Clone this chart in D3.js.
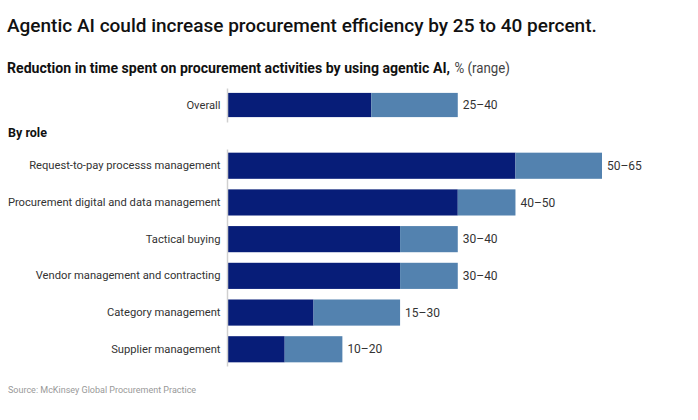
<!DOCTYPE html>
<html>
<head>
<meta charset="utf-8">
<script src="https://cdn.jsdelivr.net/npm/d3@7"></script>
<style>
  body { margin: 0; background: #fff; }
  svg { font-family: Roboto, "Liberation Sans", sans-serif; }
</style>
</head>
<body>
<div id="chart"></div>
<script>
// data
const overallLabel = ['Overall'];
const overallLow = [25];
const overallHigh = [40];

const roles = [
  'Request-to-pay processs management',
  'Procurement digital and data management',
  'Tactical buying',
  'Vendor management and contracting',
  'Category management',
  'Supplier management'
];
const roleLow = [50, 40, 30, 30, 15, 10];
const roleHigh = [65, 50, 40, 40, 30, 20];

const width = 698;
const height = 420;
const darkBlue = '#071d78';
const lightBlue = '#5382af';

const svg = d3.select('#chart')
  .append('svg')
  .attr('width', width)
  .attr('height', height);

// titles
svg.append('text')
  .attr('x', 7).attr('y', 32)
  .attr('font-size', 19)
  .attr('font-weight', 500)
  .attr('fill', '#111')
  .text('Agentic AI could increase procurement efficiency by 25 to 40 percent.');

svg.append('text')
  .attr('x', 7).attr('y', 72.5)
  .attr('font-size', 14)
  .attr('font-weight', 700)
  .attr('fill', '#111')
  .attr('textLength', 443)
  .attr('lengthAdjust', 'spacingAndGlyphs')
  .text('Reduction in time spent on procurement activities by using agentic AI,');
svg.append('text')
  .attr('x', 454.5).attr('y', 72.5)
  .attr('font-size', 14)
  .attr('fill', '#444')
  .attr('textLength', 55.5)
  .attr('lengthAdjust', 'spacingAndGlyphs')
  .text('% (range)');

svg.append('text')
  .attr('x', 8).attr('y', 137)
  .attr('font-size', 12.5)
  .attr('font-weight', 700)
  .attr('fill', '#111')
  .text('By role');

svg.append('text')
  .attr('x', 8).attr('y', 393)
  .attr('font-size', 9)
  .attr('fill', '#999')
  .text('Source: McKinsey Global Procurement Practice');

// scales
const x = d3.scaleLinear().domain([0, 65]).range([227, 602]);

const yOverall = d3.scaleBand()
  .domain(overallLabel)
  .range([88, 122])
  .paddingInner(0.288)
  .paddingOuter(0.11);

const yRole = d3.scaleBand()
  .domain(roles)
  .range([149, 366])
  .paddingInner(0.288)
  .paddingOuter(0.1);

function drawGroup(labels, low, high, y) {
  const rows = labels.map((d, i) => ({ name: d, low: low[i], high: high[i] }));
  const g = svg.append('g');

  g.selectAll('rect.low')
    .data(rows)
    .enter()
    .append('rect')
    .attr('class', 'low')
    .attr('x', x(0))
    .attr('y', d => y(d.name))
    .attr('width', d => x(d.low) - x(0))
    .attr('height', y.bandwidth())
    .attr('fill', darkBlue);

  g.selectAll('rect.high')
    .data(rows)
    .enter()
    .append('rect')
    .attr('class', 'high')
    .attr('x', d => x(d.low))
    .attr('y', d => y(d.name))
    .attr('width', d => x(d.high) - x(d.low))
    .attr('height', y.bandwidth())
    .attr('fill', lightBlue);

  g.selectAll('text.val')
    .data(rows)
    .enter()
    .append('text')
    .attr('class', 'val')
    .attr('x', d => x(d.high) + 5)
    .attr('y', d => y(d.name) + y.bandwidth() / 2)
    .attr('dy', '0.35em')
    .attr('font-size', 12)
    .attr('fill', '#333')
    .text(d => d.low + '\u2013' + d.high);

  // category axis
  const axis = g.append('g')
    .attr('transform', `translate(${x(0)},0)`)
    .call(d3.axisLeft(y).tickSize(0).tickPadding(6.5));
  axis.select('.domain').attr('stroke', '#d0d0d0').attr('stroke-width', 1.5);
  axis.selectAll('text')
    .attr('font-size', 11.2)
    .attr('font-family', 'Roboto, "Liberation Sans", sans-serif')
    .attr('fill', '#333');
}

drawGroup(overallLabel, overallLow, overallHigh, yOverall);
drawGroup(roles, roleLow, roleHigh, yRole);
</script>
</body>
</html>
